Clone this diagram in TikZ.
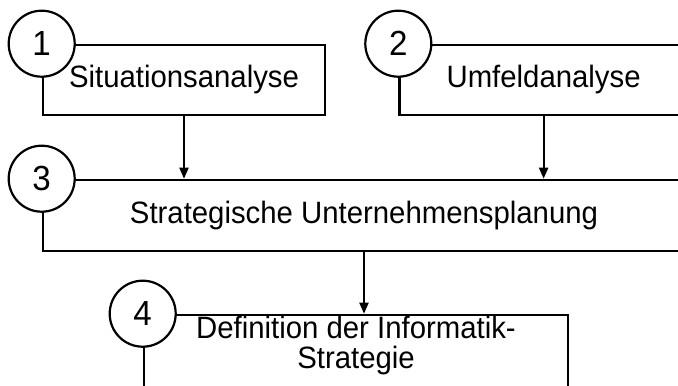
\documentclass[tikz,border=0pt]{standalone}
\usepackage{fontspec}
\setmainfont{Liberation Sans}[FakeStretch=0.95]
\usetikzlibrary{arrows.meta, positioning}

\begin{document}
\begin{tikzpicture}[x=1bp, y=-1bp, >={Triangle[length=11bp,width=9bp]}, font=\fontsize{31}{30}\selectfont]
  \useasboundingbox (0,0) rectangle (678,385);
  \clip (0,0) rectangle (678,385);

  \tikzset{
    blank/.style={
      align=center,
      inner sep=0pt},
    box/.style={
      rectangle,
      draw=black,
      line width=2.6bp,
      inner sep=0pt,
      text centered},
    circ/.style={
      circle,
      draw=black,
      fill=white,
      line width=2.2bp,
      minimum size=66bp,
      inner sep=0pt,
      font=\fontsize{35}{35}\selectfont,
      text centered}}

  \node[box, minimum width=282bp, minimum height=70bp] (s1) at (184,80) {Situationsanalyse};
  \node[box, minimum width=288bp, minimum height=70bp] (s2) [right=72bp of s1] {Umfeldanalyse};
  \node[box, minimum width=642bp, minimum height=71bp] (s3) at (364,215.5) {Strategische Unternehmensplanung};
  \node[box, minimum width=424bp, minimum height=85bp] (s4) at (356,357.5) {};
  \node[blank] (t4) [below=2bp of s4.north] {Definition der Informatik-\\Strategie};

  \node[circ] (n1) at (s1.north west) {1};
  \node[circ] (n2) at (s2.north west) {2};
  \node[circ] (n3) at (s3.north west) {3};
  \node[circ] (n4) at (s4.north west) {4};

  \draw[->, line width=2bp] (s1.south) -- (s1.south |- s3.north);
  \draw[->, line width=2bp] (s2.south) -- (s2.south |- s3.north);
  \draw[->, line width=2bp] (s3.south) -- (s3.south |- s4.north);

\end{tikzpicture}
\end{document}
